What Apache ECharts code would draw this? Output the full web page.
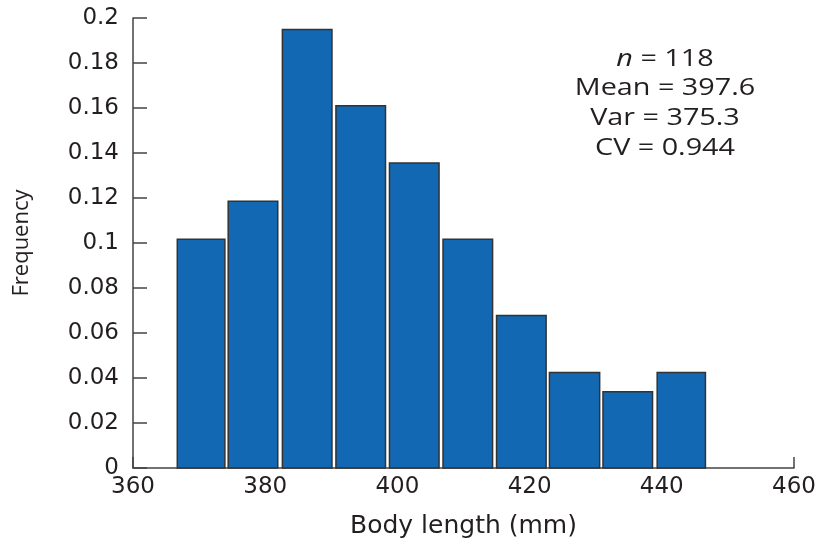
<!DOCTYPE html>
<html>
<head>
<meta charset="utf-8">
<script src="https://cdn.jsdelivr.net/npm/echarts@6/dist/echarts.min.js"></script>
<style>
  html, body { margin: 0; padding: 0; background: #fff; }
  #chart { width: 823px; height: 544px; }
</style>
</head>
<body>
<div id="chart"></div>
<script>
// bin edges (body length, mm)
var binStart = [366.7, 374.4, 382.6, 390.7, 398.8, 406.9, 415.0, 423.0, 431.1, 439.3];
var binEnd   = [373.9, 381.9, 390.1, 398.2, 406.3, 414.4, 422.5, 430.6, 438.6, 446.6];
var freq     = [0.1017, 0.1186, 0.1949, 0.161, 0.1356, 0.1017, 0.0678, 0.0424, 0.0339, 0.0424];
var statLines = ['= 118', 'Mean = 397.6', 'Var = 375.3', 'CV = 0.944'];

var chart = echarts.init(document.getElementById('chart'));
var font = '"Open Sans", "Noto Sans", sans-serif';
var wideFont = '"DejaVu Sans", sans-serif';
var textColor = '#231f20';

var data = freq.map(function (v, i) { return [binStart[i], binEnd[i], v]; });

// stats box, the source picture is stretched sideways so scale the text a bit
var statText = statLines.map(function (t, i) {
    return {
        type: 'text',
        x: 665,
        y: 59 + i * 29.7,
        scaleX: 1.25,
        style: {
            text: i === 0 ? '{i|n} ' + t : t,
            align: 'center',
            verticalAlign: 'middle',
            fontFamily: font,
            fontSize: 23,
            fill: textColor,
            rich: { i: { fontStyle: 'italic', fontFamily: font, fontSize: 23, fill: textColor } }
        }
    };
});

var option = {
    animation: false,
    grid: { left: 133, right: 29, top: 18, bottom: 75 },
    xAxis: {
        type: 'value',
        min: 360,
        max: 460,
        interval: 20,
        name: 'Body length (mm)',
        nameLocation: 'middle',
        nameGap: 46,
        nameTextStyle: { fontFamily: wideFont, fontSize: 25, color: textColor },
        splitLine: { show: false },
        axisLine: { lineStyle: { color: '#444', width: 1.5 } },
        axisTick: { inside: true, length: 11, lineStyle: { color: '#444', width: 1.5 } },
        axisLabel: { fontFamily: wideFont, fontSize: 23, color: textColor, margin: 8 }
    },
    yAxis: {
        type: 'value',
        min: 0,
        max: 0.2,
        interval: 0.02,
        name: 'Frequency',
        nameLocation: 'middle',
        nameGap: 100,
        nameTextStyle: { fontFamily: font, fontSize: 22, color: textColor },
        splitLine: { show: false },
        axisLine: { show: true, lineStyle: { color: '#444', width: 1.5 } },
        axisTick: { show: true, inside: true, length: 14, lineStyle: { color: '#444', width: 1.5 } },
        axisLabel: { fontFamily: wideFont, fontSize: 23, color: textColor, margin: 14 }
    },
    series: [{
        type: 'custom',
        data: data,
        encode: { x: [0, 1], y: 2 },
        renderItem: function (params, api) {
            var p0 = api.coord([api.value(0), api.value(2)]);
            var p1 = api.coord([api.value(1), 0]);
            return {
                type: 'rect',
                shape: { x: p0[0], y: p0[1], width: p1[0] - p0[0], height: p1[1] - p0[1] },
                style: { fill: '#1268b2', stroke: '#333', lineWidth: 1.5 }
            };
        }
    }],
    graphic: statText
};
chart.setOption(option);
</script>
</body>
</html>
